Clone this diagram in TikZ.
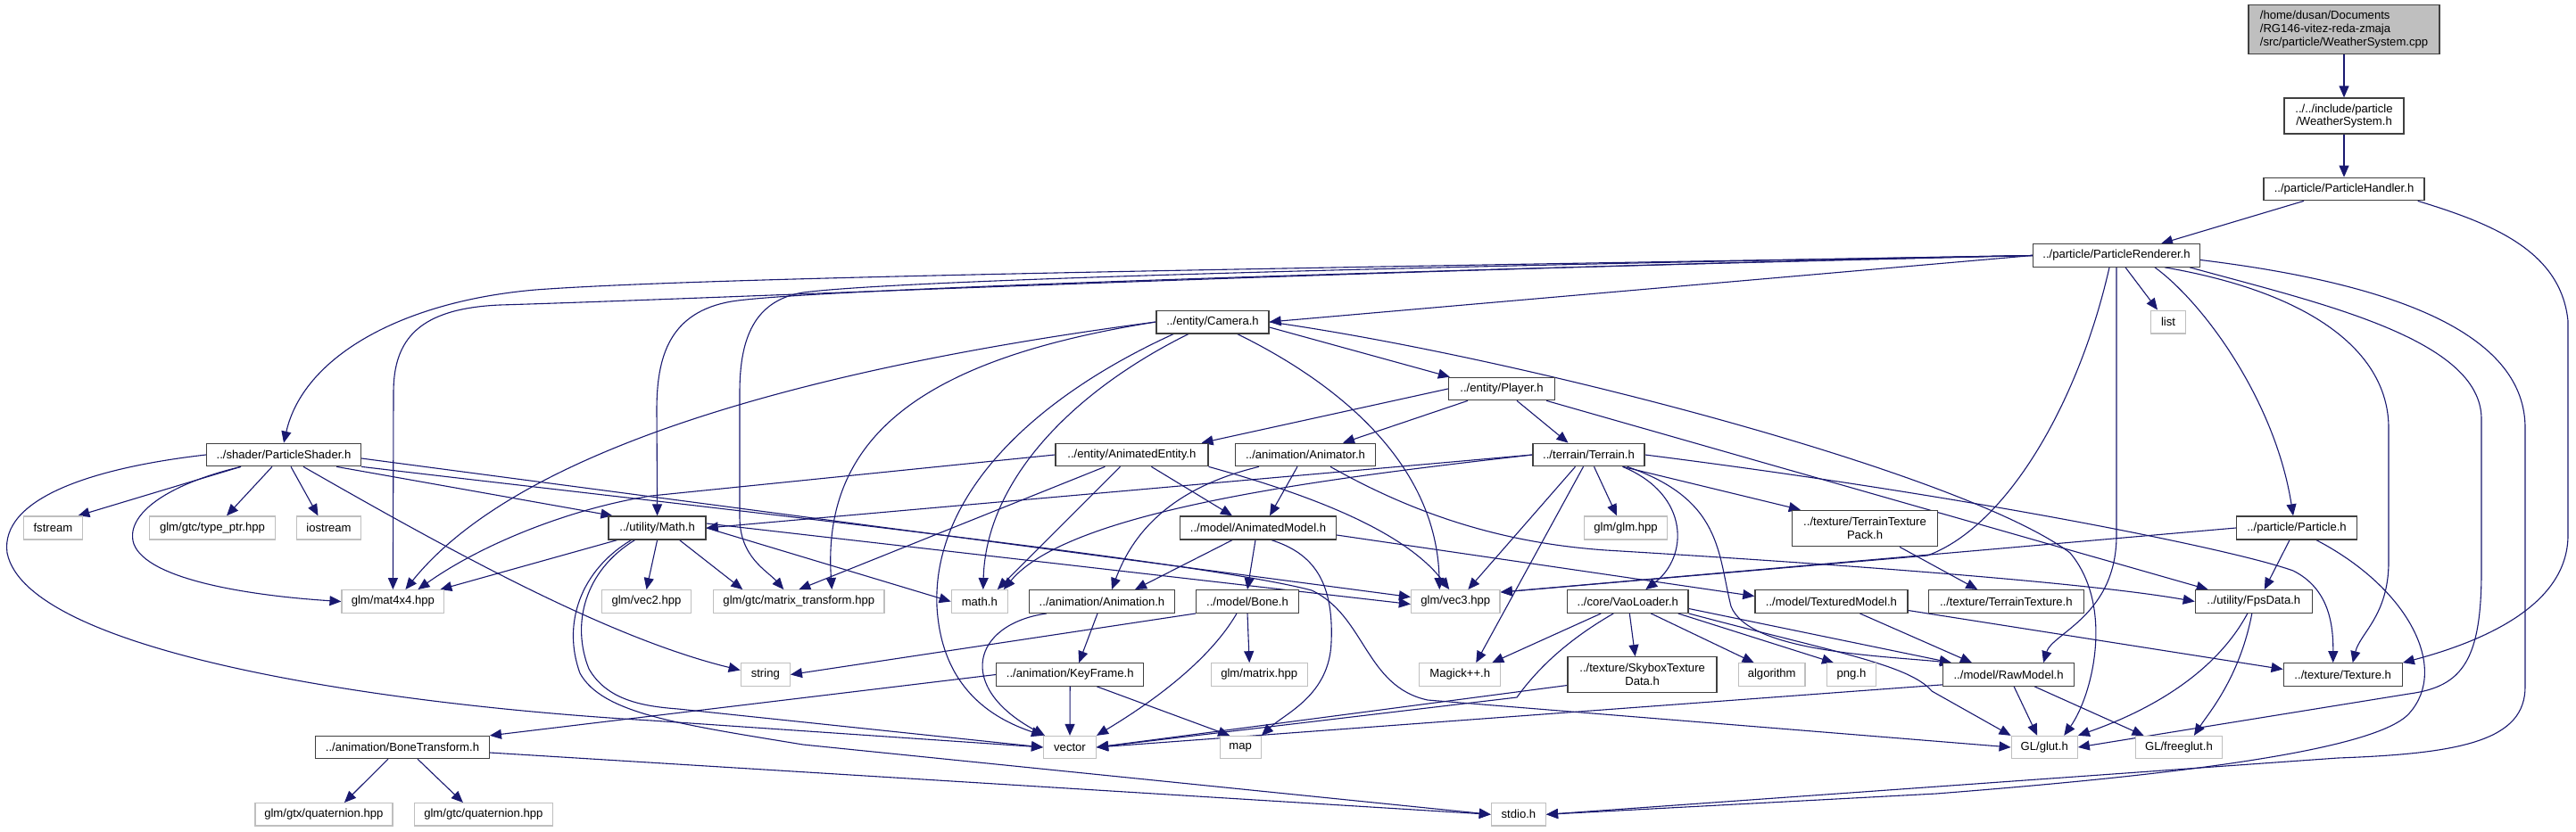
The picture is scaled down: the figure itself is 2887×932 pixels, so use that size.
\documentclass[tikz,border=0pt]{standalone}
\usepackage{fontspec}
\setmainfont{Liberation Sans}
\usetikzlibrary{arrows.meta,calc}
\pgfdeclarelayer{edgelayer}
\pgfsetlayers{edgelayer,main}
\definecolor{edgeblue}{HTML}{191970}
\definecolor{docgray}{HTML}{404040}
\definecolor{extgray}{HTML}{BFBFBF}
\definecolor{rootfill}{HTML}{BFBFBF}
\newcommand\dxfont{\fontsize{13.1pt}{14.7pt}\selectfont}
\begin{document}
\begin{tikzpicture}[x=1pt,y=-1pt,
  box/.style={rectangle, draw, line width=1.3pt, inner sep=0pt, font=\dxfont, text=black, align=center},
  doc/.style={box, draw=docgray, fill=white},
  ext/.style={box, draw=extgray, fill=white},
  sz/.style 2 args={minimum width=#1pt, minimum height=#2pt},
  e/.style={draw=edgeblue, line width=1.1pt, -{Triangle[length=13pt,width=11pt]}}]
\useasboundingbox (0,0) rectangle (2887,932);
% nodes
\node[doc, sz={214}{55}, fill=rootfill, align=left] (root) at (2627,33) {/home/dusan/Documents\\/RG146-vitez-reda-zmaja\\/src/particle/WeatherSystem.cpp};
\node[doc, sz={134}{40}] (ws) at (2627,130) {../../include/particle\\/WeatherSystem.h};
\node[doc, sz={180}{25.4}] (ph) at (2627,212) {../particle/ParticleHandler.h};
\node[doc, sz={187}{25.4}] (pr) at (2372,286.5) {../particle/ParticleRenderer.h};
\node[ext, sz={39}{25.7}] (list) at (2430,361) {list};
\node[doc, sz={126}{25.7}] (cam) at (1359,361) {../entity/Camera.h};
\node[doc, sz={119}{25.4}] (player) at (1683,436) {../entity/Player.h};
\node[doc, sz={173}{25.4}] (pshader) at (318,510) {../shader/ParticleShader.h};
\node[doc, sz={171}{25.4}] (aent) at (1268.4,510) {../entity/AnimatedEntity.h};
\node[doc, sz={157}{25.4}] (animator) at (1463,510) {../animation/Animator.h};
\node[doc, sz={125}{25.4}] (terrain) at (1780.5,510) {../terrain/Terrain.h};
\node[ext, sz={66.5}{26}] (fstream) at (59.4,592) {fstream};
\node[ext, sz={141.5}{26}] (typeptr) at (238,592) {glm/gtc/type\_ptr.hpp};
\node[ext, sz={72}{26}] (iostream) at (368.5,592) {iostream};
\node[doc, sz={109}{26}] (math) at (736.6,592) {../utility/Math.h};
\node[doc, sz={175}{26}] (amodel) at (1410,592) {../model/AnimatedModel.h};
\node[ext, sz={93}{26}] (glm) at (1822,592) {glm/glm.hpp};
\node[doc, sz={163}{40.4}] (ttpack) at (2090,592.5) {../texture/TerrainTexture\\Pack.h};
\node[doc, sz={135}{26}] (particle) at (2574,592) {../particle/Particle.h};
\node[ext, sz={114.6}{25.6}] (mat4) at (440.4,674.5) {glm/mat4x4.hpp};
\node[ext, sz={100}{25.6}] (vec2) at (724.5,674.5) {glm/vec2.hpp};
\node[ext, sz={191.4}{25.6}] (mtrans) at (895.3,674.5) {glm/gtc/matrix\_transform.hpp};
\node[ext, sz={63}{25.6}] (mathh) at (1097.8,674.5) {math.h};
\node[doc, sz={163}{25.6}] (anim) at (1235,674.5) {../animation/Animation.h};
\node[doc, sz={115}{25.6}] (bone) at (1398,674.5) {../model/Bone.h};
\node[ext, sz={99.6}{25.6}] (vec3) at (1631.3,674.5) {glm/vec3.hpp};
\node[doc, sz={135.5}{25.6}] (vao) at (1824.3,674.5) {../core/VaoLoader.h};
\node[doc, sz={171}{25.6}] (tmodel) at (2052.4,674.5) {../model/TexturedModel.h};
\node[doc, sz={174}{25.6}] (ttex) at (2248.3,674.5) {../texture/TerrainTexture.h};
\node[doc, sz={131}{25.6}] (fps) at (2525.8,674.5) {../utility/FpsData.h};
\node[ext, sz={55}{25.4}] (string) at (857.8,756.5) {string};
\node[doc, sz={165}{25.4}] (keyframe) at (1199.2,756.5) {../animation/KeyFrame.h};
\node[ext, sz={108}{25.4}] (matrix) at (1411.2,756.5) {glm/matrix.hpp};
\node[ext, sz={91}{25.4}] (magick) at (1636.2,756.5) {Magick++.h};
\node[doc, sz={167}{39.6}] (skybox) at (1840.6,756.5) {../texture/SkyboxTexture\\Data.h};
\node[ext, sz={74.5}{25.4}] (algorithm) at (1985.7,756.5) {algorithm};
\node[ext, sz={55}{25.4}] (png) at (2075,756.5) {png.h};
\node[doc, sz={147}{25.4}] (rawmodel) at (2251.1,756.5) {../model/RawModel.h};
\node[doc, sz={133}{25.4}] (texture) at (2625.7,756.5) {../texture/Texture.h};
\node[doc, sz={194.6}{25}] (bonet) at (451,838) {../animation/BoneTransform.h};
\node[ext, sz={58.7}{25}] (vector) at (1199,838) {vector};
\node[ext, sz={46}{25}] (map) at (1390.2,838) {map};
\node[ext, sz={74}{25}] (glut) at (2291.2,838) {GL/glut.h};
\node[ext, sz={97.4}{25}] (freeglut) at (2441.9,838) {GL/freeglut.h};
\node[ext, sz={154}{25.3}] (gtxq) at (362.9,913.3) {glm/gtx/quaternion.hpp};
\node[ext, sz={154.6}{25.3}] (gtcq) at (541.9,913.3) {glm/gtc/quaternion.hpp};
\node[ext, sz={61}{25.3}] (stdio) at (1701.9,913.3) {stdio.h};
% edges
\begin{pgfonlayer}{edgelayer}
\fill[white] (0,0) rectangle (2887,932);
\draw[e] (root) -- (ws);
\draw[e] (ws) -- (ph);
\draw[e] ($(ph.south)+(-45,0)$) -- ($(pr.north)+(50,0)$);
\draw[e] ($(ph.south east)+(-8,0)$) .. controls (2790,250) and (2870,280) .. (2878,360) -- (2878,600) .. controls (2878,680) and (2780,720) .. (texture.north east);
% ParticleRenderer
\draw[e] (pr.west) .. controls (1500,300) and (800,310) .. (600,325) .. controls (450,338) and (340,400) .. (pshader.north);
\draw[e] (pr.west) -- (cam.east);
\draw[e] (pr.west) .. controls (1500,305) and (900,325) .. (820,338) .. controls (750,350) and (736,400) .. (736,460) -- (math.north);
\draw[e] (pr.west) .. controls (1500,303) and (800,335) .. (560,342) .. controls (470,346) and (441,380) .. (441,440) -- (mat4.north);
\draw[e] (pr.west) .. controls (1500,300) and (1000,315) .. (900,328) .. controls (845,337) and (829,380) .. (829,440) -- (829,580) .. controls (829,625) and (860,640) .. ($(mtrans.north)+(-17,0)$);
\draw[e] ($(pr.south)+(-8,0)$) .. controls (2330,450) and (2250,590) .. (2160,623) -- ($(vec3.north east)+(0,3)$);
\draw[e] ($(pr.south)+(10,0)$) -- ($(list.north)+(-12,0)$);
\draw[e] (pr.south) -- (2372,600) .. controls (2372,690) and (2300,710) .. ($(rawmodel.north)+(39,0)$);
\draw[e] ($(pr.south)+(43,0)$) .. controls (2470,340) and (2550,450) .. ($(particle.north)+(-4,0)$);
\draw[e] ($(pr.south east)+(-40,0)$) .. controls (2600,330) and (2677,400) .. (2677,480) -- (2677,630) .. controls (2677,690) and (2645,710) .. ($(texture.north)+(11,0)$);
\draw[e] ($(pr.south east)+(-12,0)$) .. controls (2600,340) and (2781,380) .. (2781,470) -- (2781,640) .. controls (2781,740) and (2760,770) .. (2700,778) -- (glut.east);
\draw[e] ($(pr.east)+(0,5)$) .. controls (2700,320) and (2830,380) .. (2830,480) -- (2830,770) .. controls (2830,830) and (2760,845) .. (2620,850) -- (stdio.east);
% Camera
\draw[e] (cam.west) .. controls (1000,400) and (600,480) .. ($(mat4.north)+(14,0)$);
\draw[e] (cam.west) .. controls (1050,400) and (920,480) .. ($(mtrans.north)+(37,0)$);
\draw[e] ($(cam.south west)+(20,0)$) .. controls (1150,450) and (1045,560) .. (1050,680) .. controls (1055,770) and (1110,805) .. (vector.north west);
\draw[e] ($(cam.south)+(-27,0)$) .. controls (1200,440) and (1105,540) .. ($(mathh.north)+(4,0)$);
\draw[e] ($(cam.south east)+(-36,0)$) .. controls (1500,430) and (1610,520) .. ($(vec3.north)+(-18,0)$);
\draw[e] ($(cam.east)+(0,6)$) -- ($(player.north west)+(2,0)$);
\draw[e] (cam.east) .. controls (1700,400) and (2200,530) .. (2320,620) .. controls (2370,680) and (2345,780) .. ($(glut.north)+(22,0)$);
% Player
\draw[e] (player.west) -- ($(aent.north east)+(-8,0)$);
\draw[e] ($(player.south)+(-38,0)$) -- ($(animator.north)+(42,0)$);
\draw[e] ($(player.south)+(17,0)$) -- ($(terrain.north)+(-23,0)$);
\draw[e] ($(player.south east)+(-10,0)$) -- ($(fps.north west)+(15,0)$);
% AnimatedEntity
\draw[e] (aent.west) -- (730,556) .. controls (640,570) and (540,610) .. ($(mat4.north)+(28,0)$);
\draw[e] ($(aent.south)+(-30,0)$) -- (mtrans.north);
\draw[e] ($(aent.south)+(-13,0)$) -- ($(mathh.north)+(20,0)$);
\draw[e] ($(aent.south)+(22,0)$) -- ($(amodel.north)+(-29,0)$);
\draw[e] (aent.south east) .. controls (1450,550) and (1570,590) .. ($(vec3.north)+(-7,0)$);
% Animator
\draw[e] ($(animator.south)+(-52,0)$) .. controls (1300,550) and (1265,610) .. ($(anim.north)+(11,0)$);
\draw[e] ($(animator.south)+(-9,0)$) -- ($(amodel.north)+(13,0)$);
\draw[e] ($(animator.south)+(28,0)$) .. controls (1600,585) and (1700,610) .. (1800,617) .. controls (2100,635) and (2350,655) .. (fps.west);
% Terrain
\draw[e] (terrain.west) -- (math.east);
\draw[e] (terrain.west) .. controls (1500,535) and (1200,570) .. ($(mathh.north)+(27,0)$);
\draw[e] ($(terrain.south)+(-15,0)$) -- ($(vec3.north)+(14,0)$);
\draw[e] ($(terrain.south)+(-6,0)$) -- ($(magick.north)+(18,0)$);
\draw[e] ($(terrain.south)+(6,0)$) -- ($(glm.north)+(-10,0)$);
\draw[e] ($(terrain.south)+(38,0)$) .. controls (1895,555) and (1892,625) .. ($(vao.north)+(20,0)$);
\draw[e] ($(terrain.south east)+(-20,0)$) .. controls (1930,560) and (1925,620) .. (1940,680) .. controls (1960,730) and (2100,735) .. ($(rawmodel.north west)+(10,0)$);
\draw[e] ($(terrain.south east)+(-25,0)$) -- ($(ttpack.north west)+(10,0)$);
\draw[e] (terrain.east) .. controls (2200,555) and (2500,615) .. (2570,640) .. controls (2610,660) and (2615,700) .. ($(texture.north)+(-11,0)$);
% Math
\draw[e] ($(math.south west)+(10,0)$) -- ($(mat4.north east)+(-5,0)$);
\draw[e] (math.south) -- (vec2.north);
\draw[e] ($(math.south)+(25,0)$) -- ($(mtrans.north)+(-63,0)$);
\draw[e] (math.east) -- (mathh.west);
\draw[e] ($(math.east)+(0,-5)$) -- ($(vec3.west)+(0,3)$);
\draw[e] ($(math.south west)+(30,0)$) .. controls (655,640) and (640,700) .. (660,750) .. controls (680,785) and (720,792) .. (760,795) -- (vector.west);
\draw[e] ($(math.south west)+(26,0)$) .. controls (650,640) and (630,700) .. (650,755) .. controls (675,800) and (760,812) .. (900,835) -- (stdio.west);
% ParticleShader
\draw[e] (pshader.west) .. controls (100,525) and (0,560) .. (8,620) .. controls (30,730) and (420,790) .. (730,808) -- (vector.west);
\draw[e] ($(pshader.south)+(-48,0)$) -- ($(fstream.north)+(28,0)$);
\draw[e] ($(pshader.south)+(-48,0)$) .. controls (180,545) and (140,580) .. (150,610) .. controls (165,650) and (280,668) .. (mat4.west);
\draw[e] ($(pshader.south)+(-13,0)$) -- ($(typeptr.north)+(16,0)$);
\draw[e] ($(pshader.south)+(8,0)$) -- ($(iostream.north)+(-12,0)$);
\draw[e] ($(pshader.south)+(22,0)$) .. controls (500,615) and (680,715) .. ($(string.west)+(0,-5)$);
\draw[e] ($(pshader.south east)+(-28,0)$) -- ($(math.north west)+(5,0)$);
\draw[e] ($(pshader.east)+(0,4)$) -- ($(vec3.west)+(0,-5)$);
\draw[e] (pshader.south east) .. controls (800,570) and (1350,630) .. (1470,662) .. controls (1530,690) and (1530,770) .. (1600,785) -- (glut.west);
% KeyFrame, Animation, Bone
\draw[e] (keyframe.west) -- (bonet.north east);
\draw[e] (keyframe.south) -- (vector.north);
\draw[e] ($(keyframe.south)+(30,0)$) -- ($(map.north)+(-12,0)$);
\draw[e] ($(anim.south)+(-5,0)$) -- ($(keyframe.north)+(10,0)$);
\draw[e] ($(anim.south west)+(20,0)$) .. controls (1090,700) and (1070,770) .. ($(vector.north west)+(2,0)$);
\draw[e] (bone.south west) -- (string.east);
\draw[e] ($(bone.south)+(-12,0)$) .. controls (1350,750) and (1270,800) .. (vector.north east);
\draw[e] (bone.south) -- ($(matrix.north)+(-11,0)$);
% AnimatedModel
\draw[e] ($(amodel.south)+(-29,0)$) -- ($(anim.north)+(37,0)$);
\draw[e] ($(amodel.south)+(-3,0)$) -- (bone.north);
\draw[e] ($(amodel.south)+(15,0)$) .. controls (1470,620) and (1495,650) .. (1492,720) .. controls (1490,780) and (1440,800) .. (map.north east);
\draw[e] ($(amodel.east)+(0,8)$) -- ($(tmodel.west)+(0,-6)$);
% VaoLoader, Skybox
\draw[e] ($(vao.south)+(-30,0)$) -- ($(magick.north)+(36,0)$);
\draw[e] ($(vao.south)+(-16,0)$) .. controls (1770,710) and (1730,740) .. (1700,782) -- (vector.east);
\draw[e] ($(vao.south)+(2,0)$) -- ($(skybox.north)+(-8,0)$);
\draw[e] ($(vao.south)+(26,0)$) -- ($(algorithm.north)+(-20,0)$);
\draw[e] ($(vao.south east)+(-12,0)$) -- ($(png.north)+(-20,0)$);
\draw[e] ($(vao.east)+(0,8)$) -- ($(rawmodel.north west)+(10,0)$);
\draw[e] (vao.south east) .. controls (2050,730) and (2140,745) .. (2165,775) -- (glut.north west);
\draw[e] ($(skybox.west)+(0,12)$) -- (vector.east);
% TexturedModel, TerrainTexturePack
\draw[e] ($(tmodel.south)+(32,0)$) -- ($(rawmodel.north west)+(33,0)$);
\draw[e] ($(tmodel.east)+(0,10)$) -- ($(texture.west)+(0,-6)$);
\draw[e] ($(ttpack.south)+(39,0)$) -- ($(ttex.north)+(-32,0)$);
% RawModel, FpsData
\draw[e] ($(rawmodel.south west)+(0,-2)$) -- (vector.east);
\draw[e] ($(rawmodel.south)+(6,0)$) -- ($(glut.north)+(-8,0)$);
\draw[e] ($(rawmodel.south)+(29,0)$) -- ($(freeglut.north west)+(10,0)$);
\draw[e] ($(fps.south)+(-7,0)$) .. controls (2480,760) and (2400,800) .. (glut.north east);
\draw[e] ($(fps.south)+(-2,0)$) .. controls (2510,760) and (2475,800) .. ($(freeglut.north)+(17,0)$);
% Particle
\draw[e] (particle.west) -- ($(vec3.north east)+(0,3)$);
\draw[e] ($(particle.south)+(-8,0)$) -- ($(fps.north)+(12,0)$);
\draw[e] ($(particle.south)+(22,0)$) .. controls (2700,660) and (2745,750) .. (2700,800) .. controls (2660,845) and (2400,872) .. (2170,890) -- (stdio.east);
% BoneTransform
\draw[e] ($(bonet.south)+(-16,0)$) -- ($(gtxq.north)+(23,0)$);
\draw[e] ($(bonet.south)+(17,0)$) -- ($(gtcq.north)+(-23,0)$);
\draw[e] ($(bonet.east)+(0,6)$) -- (stdio.west);
\end{pgfonlayer}
\end{tikzpicture}
\end{document}
